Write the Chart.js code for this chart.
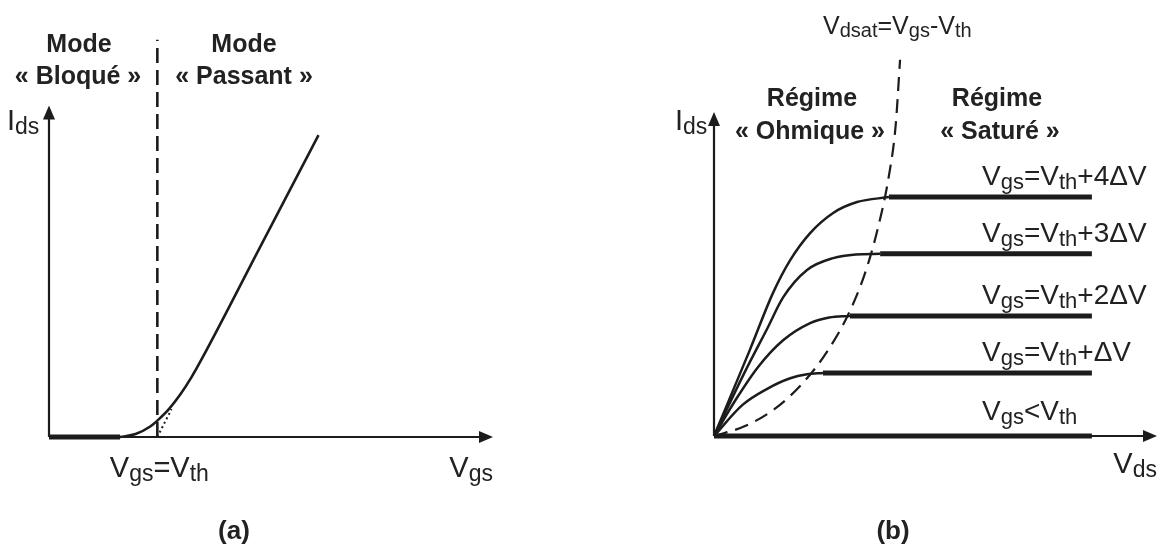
<!DOCTYPE html>
<html>
<head>
<meta charset="utf-8">
<script src="https://cdn.jsdelivr.net/npm/chart.js@4/dist/chart.umd.min.js"></script>
<style>
  html, body { margin: 0; padding: 0; background: #fff; }
  #wrap { position: relative; width: 1162px; height: 549px; overflow: hidden; background: #fff; }
  canvas { position: absolute; top: 0; }
  #chartA { left: 0; }
  #chartB { left: 581px; }
</style>
</head>
<body>
<div id="wrap">
  <canvas id="chartA" width="581" height="549"></canvas>
  <canvas id="chartB" width="581" height="549"></canvas>
</div>
<script>
// ---------- (a) transfer characteristic Ids = f(Vgs) ----------
const vth = 2.44;                                   // threshold voltage (arbitrary units)
const vgsOff = [0, 1.6];                            // blocked region, Ids ~ 0
const idsOff = [0, 0];
const vgsOn  = [1.6, 1.95, 2.28, 2.44, 2.7, 2.96, 3.2, 3.45, 4.76, 6.07];
const idsOn  = [0, 0.09, 0.32, 0.5, 0.85, 1.3, 1.8, 2.4, 5.8, 9.2];
const vgsTangent = [2.44, 2.76];                    // linear extrapolation down to Vth
const idsTangent = [0, 0.85];
const vthMarkTop = 12.1;                            // top of the Vgs = Vth dashed marker

// ---------- (b) output characteristics Ids = f(Vds) ----------
const vdsEnd = 8.53;                                // end of the saturation plateaus
const satLevels = [0, 1.91, 3.64, 5.52, 7.24];      // plateau current for each Vgs
const curveVds = [
  [0, 0.8],
  [0, 0.65, 1.2, 1.72, 2.1, 2.46],
  [0, 0.5, 1.0, 1.56, 2.17, 2.6, 3.07],
  [0, 0.7, 1.2, 1.56, 2.1, 2.69, 3.2, 3.75],
  [0, 0.81, 1.33, 1.72, 2.17, 2.69, 3.23, 3.95]
];
const curveIds = [
  [0, 0],
  [0, 0.95, 1.43, 1.75, 1.87, 1.91],
  [0, 1.12, 2.1, 2.9, 3.42, 3.59, 3.64],
  [0, 1.95, 3.25, 4.2, 5.03, 5.39, 5.5, 5.52],
  [0, 2.61, 4.33, 5.33, 6.15, 6.76, 7.09, 7.24]
];
// Vdsat = Vgs - Vth boundary between the two regimes
const vdsSat = [0, 0.7, 1.4, 2.0, 2.5, 3.0, 3.4, 3.7, 3.95, 4.1, 4.2];
const idsSat = [0, 0.3, 0.85, 1.6, 2.45, 3.6, 4.9, 6.3, 7.9, 9.4, 11.4];
const levelLabels = [
  [['V', 0], ['gs', 1], ['<V', 0], ['th', 1]],
  [['V', 0], ['gs', 1], ['=V', 0], ['th', 1], ['+ΔV', 0]],
  [['V', 0], ['gs', 1], ['=V', 0], ['th', 1], ['+2ΔV', 0]],
  [['V', 0], ['gs', 1], ['=V', 0], ['th', 1], ['+3ΔV', 0]],
  [['V', 0], ['gs', 1], ['=V', 0], ['th', 1], ['+4ΔV', 0]]
];
const labelVds = 6.05;

// ---------- drawing helpers ----------
const INK = '#1c1c1c';
const TEXT = '#222222';
const FAMILY = '"Liberation Sans", Arial, Helvetica, sans-serif';

function pts(xs, ys) { return xs.map((x, i) => ({ x: x, y: ys[i] })); }

function lineDs(xs, ys, extra) {
  return Object.assign({
    data: pts(xs, ys),
    showLine: true,
    pointRadius: 0,
    borderColor: INK,
    borderWidth: 2.5,
    fill: false,
    cubicInterpolationMode: 'monotone',
    clip: false
  }, extra || {});
}

function arrow(ctx, x1, y1, x2, y2) {
  const a = Math.atan2(y2 - y1, x2 - x1);
  const len = 14, half = 6;
  ctx.save();
  ctx.strokeStyle = INK;
  ctx.fillStyle = INK;
  ctx.lineWidth = 2.2;
  ctx.beginPath();
  ctx.moveTo(x1, y1);
  ctx.lineTo(x2 - Math.cos(a) * (len - 2), y2 - Math.sin(a) * (len - 2));
  ctx.stroke();
  ctx.beginPath();
  ctx.moveTo(x2, y2);
  ctx.lineTo(x2 - Math.cos(a) * len - Math.sin(a) * half, y2 - Math.sin(a) * len + Math.cos(a) * half);
  ctx.lineTo(x2 - Math.cos(a) * len + Math.sin(a) * half, y2 - Math.sin(a) * len - Math.cos(a) * half);
  ctx.closePath();
  ctx.fill();
  ctx.restore();
}

// text with subscripts: parts = [[string, isSubscript], ...]
function rich(ctx, parts, x, y, size, align) {
  const sub = Math.round(size * 0.79);
  const fMain = size + 'px ' + FAMILY;
  const fSub = sub + 'px ' + FAMILY;
  let w = 0;
  parts.forEach(p => { ctx.font = p[1] ? fSub : fMain; w += ctx.measureText(p[0]).width; });
  let cx = x;
  if (align === 'center') cx = x - w / 2;
  if (align === 'right') cx = x - w;
  ctx.save();
  ctx.fillStyle = TEXT;
  ctx.textBaseline = 'alphabetic';
  ctx.textAlign = 'left';
  parts.forEach(p => {
    ctx.font = p[1] ? fSub : fMain;
    ctx.fillText(p[0], cx, y + (p[1] ? Math.round(size * 0.13) : 0));
    cx += ctx.measureText(p[0]).width;
  });
  ctx.restore();
}

function bold(ctx, str, x, y, size) {
  ctx.save();
  ctx.fillStyle = TEXT;
  ctx.font = 'bold ' + size + 'px ' + FAMILY;
  ctx.textAlign = 'center';
  ctx.textBaseline = 'alphabetic';
  ctx.fillText(str, x, y);
  ctx.restore();
}

function baseOptions(padding, xMax, yMax) {
  return {
    responsive: false,
    animation: false,
    events: [],
    layout: { padding: padding },
    plugins: { legend: { display: false }, tooltip: { enabled: false } },
    scales: {
      x: { type: 'linear', min: 0, max: xMax, display: false },
      y: { type: 'linear', min: 0, max: yMax, display: false }
    }
  };
}

// ---------- chart (a) ----------
const axesA = {
  id: 'axesA',
  beforeDatasetsDraw(chart) {
    const { ctx, scales: { x, y } } = chart;
    arrow(ctx, x.getPixelForValue(0), y.getPixelForValue(0), x.getPixelForValue(0), y.getPixelForValue(10.1));
    arrow(ctx, x.getPixelForValue(0), y.getPixelForValue(0), x.getPixelForValue(10), y.getPixelForValue(0));
  },
  afterDraw(chart) {
    const { ctx, scales: { x, y } } = chart;
    bold(ctx, 'Mode', 79, 52, 25);
    bold(ctx, '« Bloqué »', 78, 84, 25);
    bold(ctx, 'Mode', 244, 52, 25);
    bold(ctx, '« Passant »', 244, 84, 25);
    rich(ctx, [['I', 0], ['ds', 1]], 7, 130, 29, 'left');
    rich(ctx, [['V', 0], ['gs', 1], ['=V', 0], ['th', 1]], x.getPixelForValue(vth) + 2, 477, 29, 'center');
    rich(ctx, [['V', 0], ['gs', 1]], x.getPixelForValue(10), 477, 29, 'right');
    bold(ctx, '(a)', 234, 539, 26);
  }
};

new Chart(document.getElementById('chartA'), {
  type: 'scatter',
  data: {
    datasets: [
      lineDs([vth, vth], [0, vthMarkTop], { borderDash: [15, 7], borderWidth: 2.6, cubicInterpolationMode: 'default' }),
      lineDs(vgsTangent, idsTangent, { borderDash: [2, 3], borderWidth: 2, cubicInterpolationMode: 'default' }),
      lineDs(vgsOff, idsOff, { borderWidth: 5, cubicInterpolationMode: 'default' }),
      lineDs(vgsOn, idsOn, { borderWidth: 2.6 })
    ]
  },
  options: baseOptions({ left: 49, right: 88, top: 30, bottom: 112 }, 10, 12.4),
  plugins: [axesA]
});

// ---------- chart (b) ----------
const axesB = {
  id: 'axesB',
  beforeDatasetsDraw(chart) {
    const { ctx, scales: { x, y } } = chart;
    arrow(ctx, x.getPixelForValue(0), y.getPixelForValue(0), x.getPixelForValue(0), y.getPixelForValue(9.82));
    arrow(ctx, x.getPixelForValue(0), y.getPixelForValue(0), x.getPixelForValue(10), y.getPixelForValue(0));
  },
  afterDraw(chart) {
    const { ctx, scales: { x, y } } = chart;
    rich(ctx, [['V', 0], ['dsat', 1], ['=V', 0], ['gs', 1], ['-V', 0], ['th', 1]], 242, 34, 25, 'left');
    bold(ctx, 'Régime', 231, 106, 25);
    bold(ctx, '« Ohmique »', 229, 139, 25);
    bold(ctx, 'Régime', 416, 106, 25);
    bold(ctx, '« Saturé »', 419, 139, 25);
    rich(ctx, [['I', 0], ['ds', 1]], 94, 130, 29, 'left');
    rich(ctx, [['V', 0], ['ds', 1]], x.getPixelForValue(10), 473, 29, 'right');
    levelLabels.forEach((parts, i) => {
      rich(ctx, parts, x.getPixelForValue(labelVds), y.getPixelForValue(satLevels[i]) - (i === 0 ? 16 : 12), 28, 'left');
    });
    bold(ctx, '(b)', 312, 539, 26);
  }
};

const dsB = [];
dsB.push(lineDs(vdsSat, idsSat, { borderDash: [14, 8], borderWidth: 2.2 }));
satLevels.forEach((lvl, i) => {
  if (i > 0) dsB.push(lineDs(curveVds[i], curveIds[i], { borderWidth: 2.5 }));
  const start = curveVds[i][curveVds[i].length - 1];
  dsB.push(lineDs([i === 0 ? 0 : start, vdsEnd], [lvl, lvl], { borderWidth: 5, cubicInterpolationMode: 'default' }));
});

new Chart(document.getElementById('chartB'), {
  type: 'scatter',
  data: { datasets: dsB },
  options: baseOptions({ left: 133, right: 5, top: 40, bottom: 113 }, 10, 12),
  plugins: [axesB]
});
</script>
</body>
</html>
